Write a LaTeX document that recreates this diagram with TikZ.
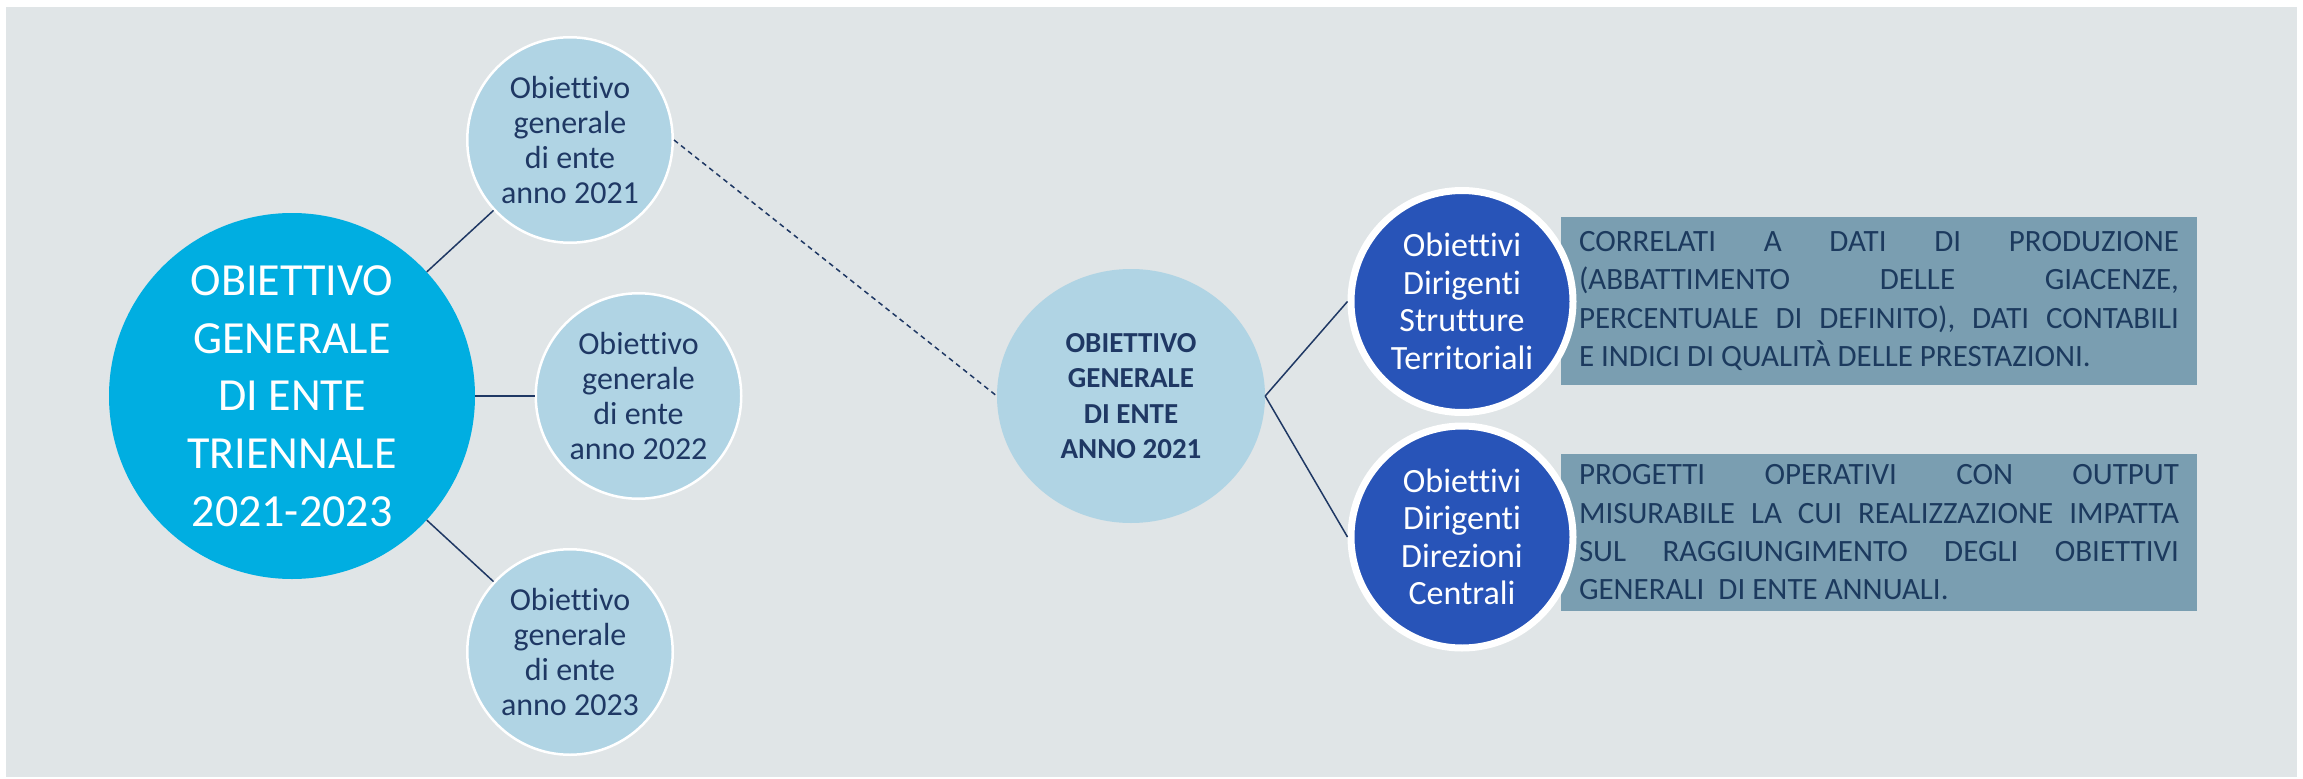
\documentclass[tikz,border=0pt]{standalone}
\usepackage{fontspec}
\setmainfont{Carlito}[Ligatures={NoCommon,NoRare,NoContextual}]
\usetikzlibrary{shapes.geometric}
\definecolor{bgc}{HTML}{E0E5E7}
\definecolor{maincol}{HTML}{00AEE1}
\definecolor{lightc}{HTML}{B0D4E4}
\definecolor{navy}{HTML}{1F3864}
\definecolor{darkc}{HTML}{2854B8}
\definecolor{rectc}{HTML}{7A9EB1}
\definecolor{recttext}{HTML}{1C3A5E}
\begin{document}
\begin{tikzpicture}[x=1pt,y=-1pt,
  mainc/.style={circle, fill=maincol, minimum size=366pt, inner sep=0pt, text=white, align=center, font=\fontsize{46}{57.7}\selectfont},
  yearc/.style={circle, fill=lightc, draw=white, line width=2.5pt, minimum size=205.5pt, inner sep=0pt, text=navy, align=center, font=\fontsize{32}{35}\selectfont},
  annoc/.style={ellipse, fill=lightc, minimum width=268pt, minimum height=254pt, inner sep=0pt, text=navy, align=center, font=\fontsize{29}{35.5}\selectfont\bfseries},
  dirc/.style={circle, fill=darkc, draw=white, line width=7pt, minimum size=222pt, inner sep=0pt, text=white, align=center, font=\fontsize{34}{37.5}\selectfont},
  descbox/.style={rectangle, fill=rectc, minimum width=636pt, inner sep=0pt, text=recttext, align=left, font=\fontsize{31}{38.3}\selectfont},
  link/.style={draw=navy, line width=1.5pt},
  dlink/.style={draw=navy, line width=1.5pt, dash pattern=on 5pt off 4pt}
]
\fill[white] (0,0) rectangle (2303,779);
\useasboundingbox (0,0) rectangle (2303,779);
\fill[bgc] (6,7) rectangle (2297,777);

\node[mainc] (main) at (292,396) {OBIETTIVO\\GENERALE\\DI ENTE\\TRIENNALE\\2021-2023};
\node[yearc] (y1) at (570,140) {Obiettivo\\generale\\di ente\\anno 2021};
\node[yearc] (y2) at (638.5,396) {Obiettivo\\generale\\di ente\\anno 2022};
\node[yearc] (y3) at (570,652) {Obiettivo\\generale\\di ente\\anno 2023};
\node[annoc] (anno) at (1131,396) {OBIETTIVO\\GENERALE\\DI ENTE\\ANNO 2021};

\node[descbox, minimum height=168pt] (b1) at (1879,301) {\makebox[600pt][s]{CORRELATI A DATI DI PRODUZIONE}\\\makebox[600pt][s]{(ABBATTIMENTO DELLE GIACENZE,}\\\makebox[600pt][s]{PERCENTUALE DI DEFINITO), DATI CONTABILI}\\E INDICI DI QUALITÀ DELLE PRESTAZIONI.};
\node[descbox, minimum height=157pt] (b2) at (1879,532.5) {\makebox[600pt][s]{PROGETTI OPERATIVI CON OUTPUT}\\\makebox[600pt][s]{MISURABILE LA CUI REALIZZAZIONE IMPATTA}\\\makebox[600pt][s]{SUL RAGGIUNGIMENTO DEGLI OBIETTIVI}\\GENERALI\ \ DI ENTE ANNUALI.};

\node[dirc] (d1) at (1462,301.5) {Obiettivi\\Dirigenti\\Strutture\\Territoriali};
\node[dirc] (d2) at (1462,537) {Obiettivi\\Dirigenti\\Direzioni\\Centrali};

\draw[link] (main) -- (y1);
\draw[link] (main) -- (y2);
\draw[link] (main) -- (y3);
\draw[dlink] (y1.east) -- (anno.west);
\draw[link] (anno.east) -- (d1.west);
\draw[link] (anno.east) -- (d2.west);
\end{tikzpicture}
\end{document}
